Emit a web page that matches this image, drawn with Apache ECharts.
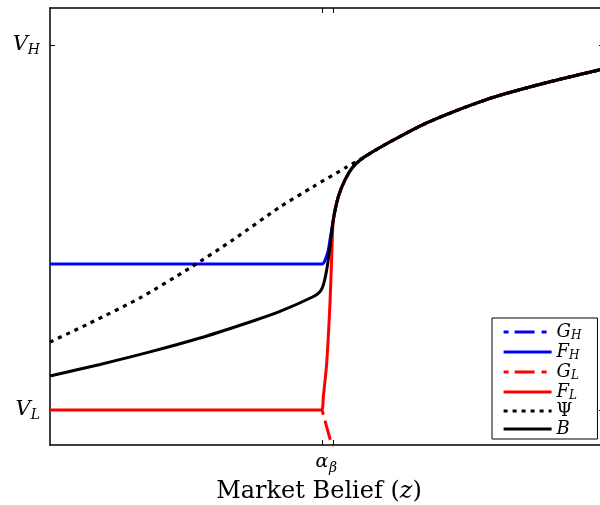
<!DOCTYPE html>
<html>
<head>
<meta charset="utf-8">
<script src="https://cdn.jsdelivr.net/npm/echarts@6/dist/echarts.min.js"></script>
<style>
  html, body { margin: 0; padding: 0; background: #fff; }
  #chart { width: 600px; height: 505px; }
</style>
</head>
<body>
<div id="chart"></div>
<script>
// Market belief z runs from 0 to 1; asset value is scaled so V_L = 0 and V_H = 1.
const zAlpha = 0.491;
const zBeta = 0.511;
const valueTicks = [0, 1];           // V_L, V_H
const valueTickNames = { 0: 'L', 1: 'H' };

// Common upper branch: every curve coincides with B here
const tailZ = [0.5957, 0.6318, 0.6769, 0.7220, 0.7671, 0.8123, 0.9025, 0.9928, 1.0];
const tailV = [0.719, 0.749, 0.784, 0.813, 0.839, 0.862, 0.899, 0.932, 0.934];

// B: equilibrium asset value below the common branch
const bZ = [0, 0.0903, 0.1805, 0.2708, 0.3610, 0.4152, 0.4747, 0.4874, 0.4933, 0.4995, 0.5054, 0.5114, 0.5204, 0.5325, 0.5475, 0.5686];
const bV = [0.093, 0.1247, 0.159, 0.197, 0.241, 0.270, 0.310, 0.324, 0.342, 0.384, 0.447, 0.521, 0.584, 0.630, 0.667, 0.694];

// Psi: dotted upper curve until it meets B
const psiZ = [0, 0.0722, 0.1625, 0.2527, 0.3303, 0.4152, 0.4747, 0.5361, 0.5686];
const psiV = [0.186, 0.238, 0.307, 0.389, 0.466, 0.556, 0.611, 0.666, 0.694];

// F_H: flat until alpha, then rises onto B
const fhZ = [0, 0.491, 0.4964, 0.5024, 0.5054, 0.5114, 0.5204, 0.5325, 0.5475, 0.5686];
const fhV = [0.400, 0.400, 0.410, 0.438, 0.466, 0.521, 0.584, 0.630, 0.667, 0.694];

// F_L: flat at V_L until alpha, then a near-vertical climb onto B
const flZ = [0, 0.490, 0.4933, 0.4995, 0.5054, 0.5085, 0.5114, 0.5204, 0.5325, 0.5475, 0.5686];
const flV = [0, 0, 0.036, 0.129, 0.293, 0.420, 0.521, 0.584, 0.630, 0.667, 0.694];

// G_L: falls from V_L below the axis just after alpha
const glZ = [0.491, 0.512];
const glV = [0, -0.115];

// G_H: hidden beneath the other curves, shown in the legend only
const ghZ = [];
const ghV = [];

const zip = (xs, ys) => xs.map((x, i) => [x, ys[i]]);
const withTail = (xs, ys) => zip(xs, ys).concat(zip(tailZ, tailV));

const SERIF = '"DejaVu Serif", "Liberation Serif", serif';
const dashDot = [20, 7, 5, 6];
const dotted = [4, 5];

const legendRich = {
  v: { fontFamily: SERIF, fontStyle: 'italic', fontSize: 18, lineHeight: 18, color: '#000' },
  u: { fontFamily: SERIF, fontSize: 18, lineHeight: 18, color: '#000' },
  s: { fontFamily: SERIF, fontStyle: 'italic', fontSize: 12, lineHeight: 10, color: '#000', padding: [8, 0, 0, 0] }
};
const legendText = {
  'G_H': '{v|G}{s|H}', 'F_H': '{v|F}{s|H}', 'G_L': '{v|G}{s|L}',
  'F_L': '{v|F}{s|L}', 'Psi': '{u|Ψ}', 'B': '{v|B}'
};

function lineSeries(name, data, color, type, width, offset, smooth) {
  return {
    name: name,
    type: 'line',
    data: data,
    showSymbol: false,
    symbol: 'none',
    smooth: smooth || false,
    clip: true,
    animation: false,
    lineStyle: { color: color, width: width, type: type, dashOffset: offset || 0, cap: 'butt' },
    itemStyle: { color: color }
  };
}

const chart = echarts.init(document.getElementById('chart'), null, { renderer: 'canvas' });
chart.setOption({
  backgroundColor: '#fff',
  animation: false,
  grid: { left: 50, top: 8, width: 554, height: 437, containLabel: false, outerBoundsMode: 'none' },
  legend: {
    orient: 'vertical',
    left: 492,
    top: 318,
    padding: [4, 16, 1, 10],
    itemWidth: 48,
    itemHeight: 14,
    itemGap: 0,
    backgroundColor: '#fff',
    borderColor: '#000',
    borderWidth: 1,
    borderRadius: 0,
    itemStyle: { opacity: 0 },
    data: [
      { name: 'G_H', lineStyle: { type: dashDot, dashOffset: 27, width: 3 } },
      { name: 'F_H', lineStyle: { width: 3 } },
      { name: 'G_L', lineStyle: { type: dashDot, dashOffset: 27, width: 3 } },
      { name: 'F_L', lineStyle: { width: 3 } },
      { name: 'Psi', lineStyle: { type: dotted, width: 3.2 } },
      { name: 'B', lineStyle: { width: 3 } }
    ],
    formatter: n => legendText[n],
    textStyle: { rich: legendRich }
  },
  xAxis: [
    {
      type: 'value', min: 0, max: 1, position: 'bottom',
      axisLine: { show: true, onZero: false, lineStyle: { color: '#000', width: 1.5 } },
      axisTick: { show: true, inside: true, length: 5, customValues: [zAlpha, zBeta], lineStyle: { color: '#000', width: 1 } },
      axisLabel: {
        show: true, margin: 8, customValues: [zAlpha, zBeta],
        formatter: v => (v === zAlpha ? '{a|α}' : '{b|β}'),
        rich: {
          a: { fontFamily: SERIF, fontStyle: 'italic', fontSize: 19, color: '#000' },
          b: { fontFamily: SERIF, fontStyle: 'italic', fontSize: 14, color: '#000', padding: [8, 0, 0, 0] }
        }
      },
      splitLine: { show: false },
      name: 'Market Belief ({i|z})',
      nameLocation: 'middle',
      nameGap: 32,
      nameTextStyle: {
        fontFamily: SERIF, fontSize: 24, color: '#000',
        padding: [0, 16, 0, 0],
        rich: { i: { fontFamily: SERIF, fontStyle: 'italic', fontSize: 24, color: '#000' } }
      }
    },
    {
      type: 'value', min: 0, max: 1, position: 'top',
      axisLine: { show: true, onZero: false, lineStyle: { color: '#000', width: 1.5 } },
      axisTick: { show: true, inside: true, length: 5, customValues: [zAlpha, zBeta], lineStyle: { color: '#000', width: 1 } },
      axisLabel: { show: false },
      splitLine: { show: false }
    }
  ],
  yAxis: [
    {
      type: 'value', min: -0.096, max: 1.101, position: 'left',
      axisLine: { show: true, onZero: false, lineStyle: { color: '#000', width: 1.5 } },
      axisTick: { show: true, inside: true, length: 5, customValues: valueTicks, lineStyle: { color: '#000', width: 1 } },
      axisLabel: {
        show: true, margin: 10, customValues: valueTicks,
        formatter: v => '{v|V}{s|' + valueTickNames[v] + '}',
        rich: {
          v: { fontFamily: SERIF, fontStyle: 'italic', fontSize: 21, color: '#000' },
          s: { fontFamily: SERIF, fontStyle: 'italic', fontSize: 14, color: '#000', padding: [11, 0, 0, 0] }
        }
      },
      splitLine: { show: false },
      name: 'Asset Value',
      nameLocation: 'middle',
      nameGap: 18,
      nameRotate: 90,
      nameTextStyle: { fontFamily: SERIF, fontSize: 22.5, color: '#000' }
    },
    {
      type: 'value', min: -0.096, max: 1.101, position: 'right',
      axisLine: { show: true, onZero: false, lineStyle: { color: '#000', width: 1.5 } },
      axisTick: { show: true, inside: true, length: 5, customValues: valueTicks, lineStyle: { color: '#000', width: 1 } },
      axisLabel: { show: false },
      splitLine: { show: false }
    }
  ],
  series: [
    lineSeries('G_H', zip(ghZ, ghV), '#0000ff', dashDot, 3, 27),
    lineSeries('F_H', withTail(fhZ, fhV), '#0000ff', 'solid', 3, 0, 0.25),
    lineSeries('G_L', zip(glZ, glV), '#ff0000', dashDot, 3, 27),
    lineSeries('F_L', withTail(flZ, flV), '#ff0000', 'solid', 3, 0, 0.25),
    lineSeries('Psi', withTail(psiZ, psiV), '#000000', dotted, 3.2, 0, 0.25),
    lineSeries('B', withTail(bZ, bV), '#000000', 'solid', 3, 0, 0.25)
  ]
});
</script>
</body>
</html>
